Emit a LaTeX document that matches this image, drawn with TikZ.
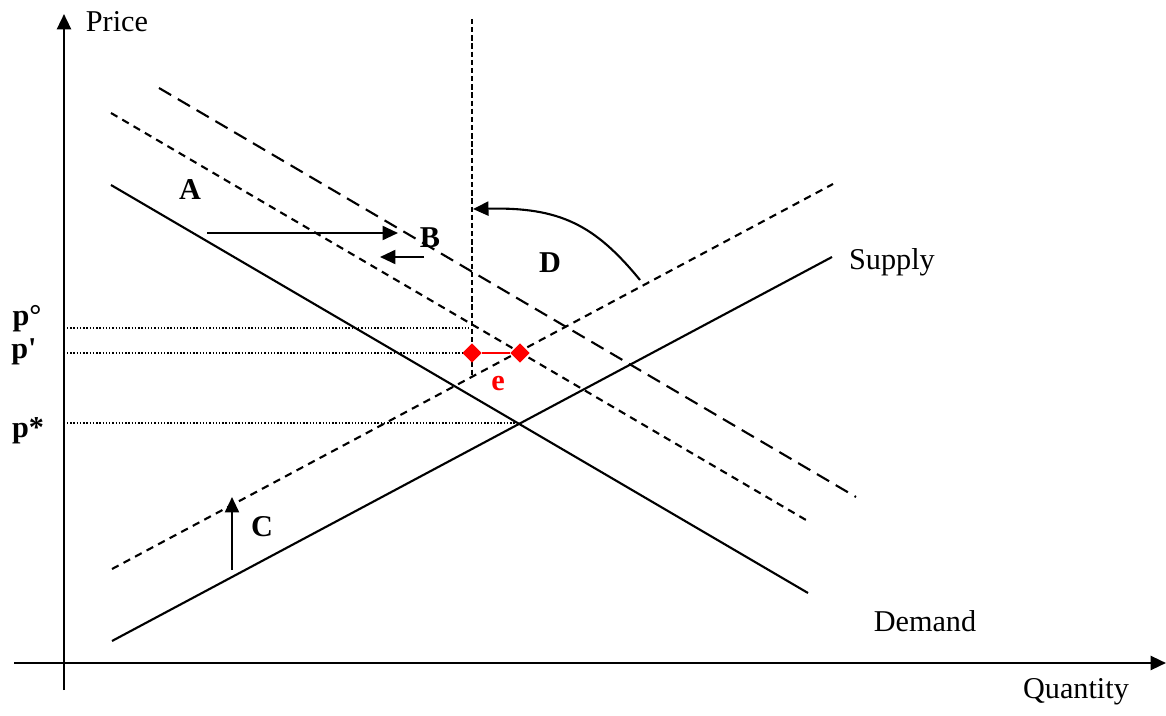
\documentclass[tikz,border=0pt]{standalone}
\usepackage{fontspec}
\setmainfont{Liberation Serif}
\usetikzlibrary{arrows.meta,shapes.geometric}
\begin{document}
\begin{tikzpicture}[x=0.025cm, y=-0.025cm, >={Triangle[length=11pt,width=10pt]},
  font=\fontsize{21.5}{25}\selectfont,
  axis/.style={line width=1.8pt},
  curve/.style={line width=1.5pt},
  longdash/.style={curve, dash pattern=on 10pt off 5.5pt},
  shortdash/.style={curve, dash pattern=on 5.3pt off 4pt},
  finedash/.style={line width=1.4pt, dash pattern=on 3.8pt off 2pt},
  level/.style={line width=1pt, dash pattern=on 1pt off 1.3pt},
  lbl/.style={font=\fontsize{21.5}{25}\selectfont\bfseries},
  reddot/.style={diamond, fill=red, inner sep=0pt, minimum size=14pt}]
\useasboundingbox (0,0) rectangle (1166,716);

% axes
\coordinate (yb) at (64,690);
\coordinate (yt) at (64,14);
\coordinate (xl) at (14,663);
\coordinate (xr) at (1166,663);
\draw[->, axis] (yb) -- (yt);
\draw[->, axis] (xl) -- (xr);
\node (price) at (117,22) {Price};
\node (qty) at (1076,692) {Quantity};

% demand curves
\coordinate (d0a) at (111,185); \coordinate (d0b) at (808,593);
\coordinate (d1a) at (111,113); \coordinate (d1b) at (806,520);
\coordinate (d2a) at (159,88);  \coordinate (d2b) at (856,497);
\draw[curve] (d0a) -- (d0b);
\draw[shortdash] (d1a) -- (d1b);
\draw[longdash] (d2a) -- (d2b);
\node (demand) at (925,621) {Demand};

% supply curves
\coordinate (s0a) at (112,641); \coordinate (s0b) at (832,257);
\coordinate (s1a) at (112,569); \coordinate (s1b) at (833,184);
\draw[curve] (s0a) -- (s0b);
\draw[shortdash] (s1a) -- (s1b);
\node (supply) at (892,262) {Supply};

% quota line
\coordinate (qt) at (472,19);
\coordinate (qb) at (472,377);
\draw[finedash] (qt) -- (qb);

% price levels
\coordinate (l0) at (67,328); \coordinate (r0) at (471,328);
\coordinate (l1) at (67,353);
\coordinate (l2) at (67,423); \coordinate (r2) at (517,423);
\node[reddot] (m1) at (472,353) {};
\node[reddot] (m2) at (520,353) {};
\draw[level] (l0) -- (r0);
\draw[level] (l1) -- (m1);
\draw[level] (l2) -- (r2);
\draw[red, line width=1.5pt] (m1) -- (m2);
\node[lbl, red] (e) at (498,384) {e};
\node[lbl] (po) at (27,319) {p°};
\node[lbl] (pp) at (24,352) {p\textquotesingle};
\node[lbl] (ps) at (28,431) {p*};

% shifts
\node[lbl] (A) at (190,190) {A};
\node[lbl] (B) at (430,238) {B};
\node[lbl] (C) at (262,527) {C};
\node[lbl] (D) at (550,263) {D};
\coordinate (a1) at (207,233); \coordinate (a2) at (398,233);
\coordinate (b1) at (424,257); \coordinate (b2) at (380,257);
\coordinate (c1) at (232,570); \coordinate (c2) at (232,497);
\coordinate (dd1) at (640,280); \coordinate (dd2) at (473,209);
\draw[->, curve] (a1) -- (a2);
\draw[->, curve] (b1) -- (b2);
\draw[->, curve] (c1) -- (c2);
\draw[->, curve] (dd1) .. controls (595,225) and (560,207) .. (dd2);
\end{tikzpicture}
\end{document}
